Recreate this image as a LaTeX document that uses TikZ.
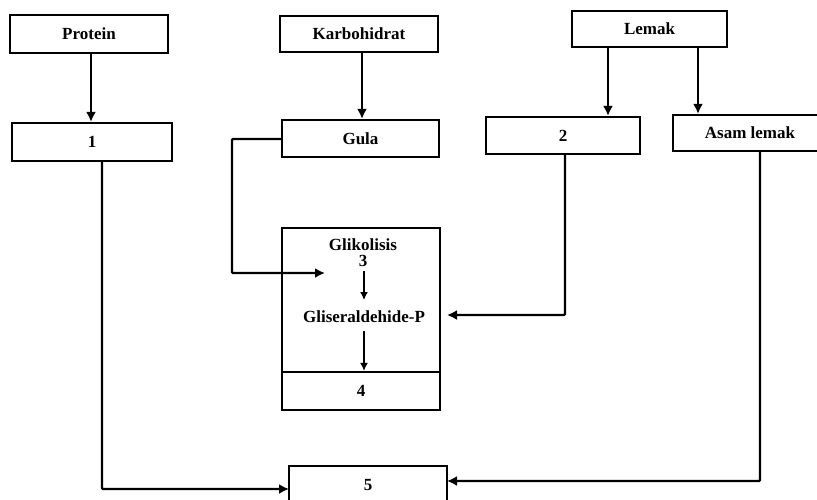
\documentclass[tikz,border=0pt]{standalone}
\usepackage{fontspec}
\setmainfont{Liberation Serif}
\usetikzlibrary{arrows.meta}
\begin{document}
\begin{tikzpicture}[x=1pt,y=-1pt,
  box/.style={draw,line width=2.2pt,inner sep=0pt,font=\fontsize{17}{19}\selectfont\bfseries},
  lbl/.style={inner sep=0pt,font=\fontsize{17}{19}\selectfont\bfseries},
  conn/.style={line width=2.2pt,-{Latex[length=10pt,width=10pt]}},
  thin/.style={line width=1.5pt,-{Latex[length=8pt,width=8pt]}}]
\useasboundingbox (0,0) rectangle (817,499);
% top row
\node[box,minimum width=158pt,minimum height=38pt] (prot) at (89,34) {Protein};
\node[box,minimum width=158pt,minimum height=36pt] (karb) at (359,34) {Karbohidrat};
\node[box,minimum width=155pt,minimum height=36pt] (lem) at (649.5,29) {Lemak};
% second row
\node[box,minimum width=160pt,minimum height=38pt] (n1) at (92,142) {1};
\node[box,minimum width=157pt,minimum height=37pt] (gula) at (360.5,138.5) {Gula};
\node[box,minimum width=154pt,minimum height=37pt] (n2) at (563,135.5) {2};
\node[box,minimum width=146pt,minimum height=36pt] (asam) at (746,133) {};
\node[lbl] (asamtxt) at (750,133) {Asam lemak};
% glycolysis box
\node[box,minimum width=158pt,minimum height=144pt] (glik) at (361,300) {};
\node[box,minimum width=158pt,minimum height=38pt] (n4) at (361,391) {4};
\node[lbl] (gtxt) at (363,245) {Glikolisis};
\node[lbl] (n3) at (363,261) {3};
\node[lbl] (gp) at (364,317) {Gliseraldehide-P};
% bottom
\node[box,minimum width=158pt,minimum height=38pt] (n5) at (368,485) {5};
% coordinates
\coordinate (g1) at (232,139);
\coordinate (g2) at (232,273);
\coordinate (gin) at (325,273);
\coordinate (t2) at (565,315);
\coordinate (gpin) at (447,315);
\coordinate (c1) at (102,489);
\coordinate (c1in) at (289,489);
\coordinate (ca) at (760,481);
\coordinate (cain) at (447,481);
% connectors
\draw[conn] (prot.south -| 91,0) -- (n1.north -| 91,0);
\draw[conn] (karb.south -| 362,0) -- (gula.north -| 362,0);
\draw[conn] (lem.south -| 608,0) -- (n2.north -| 608,0);
\draw[conn] (lem.south -| 698,0) -- (asam.north -| 698,0);
\draw[conn,rounded corners=1pt] (gula.west |- g1) -- (g1) -- (g2) -- (gin);
\draw[conn,rounded corners=1pt] (n2.south -| t2) -- (t2) -- (gpin);
\draw[conn,rounded corners=1pt] (n1.south -| c1) -- (c1) -- (c1in);
\draw[conn,rounded corners=1pt] (asam.south -| ca) -- (ca) -- (cain);
\draw[thin] (364,271) -- (364,300);
\draw[thin] (gp.south -| 364,0) ++(0,8) -- (n4.north -| 364,0);
\end{tikzpicture}
\end{document}
